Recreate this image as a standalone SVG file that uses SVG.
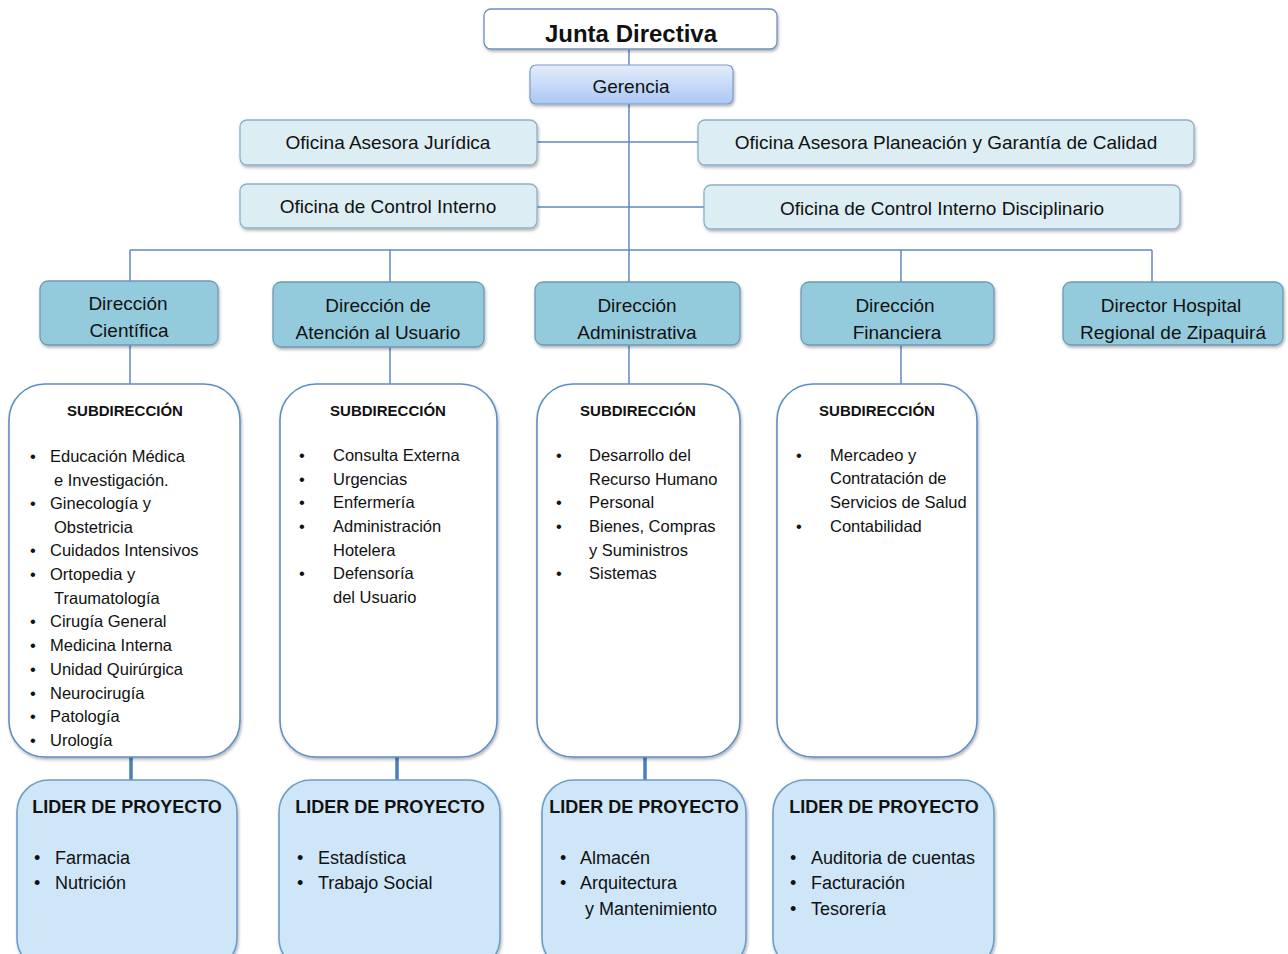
<svg xmlns="http://www.w3.org/2000/svg" width="1288" height="954" viewBox="0 0 1288 954">
<defs>
  <linearGradient id="gGer" x1="0" y1="0" x2="0" y2="1">
    <stop offset="0" stop-color="#e4eefc"/>
    <stop offset="1" stop-color="#aac6f2"/>
  </linearGradient>
  <filter id="sh" x="-5%" y="-5%" width="110%" height="120%">
    <feDropShadow dx="1" dy="2" stdDeviation="1.5" flood-color="#000" flood-opacity="0.3"/>
  </filter>
</defs>
<style>
  text { font-family: "Liberation Sans", Arial, sans-serif; fill: #111; }
  .c { text-anchor: middle; }
  .t19 { font-size: 19px; }
  .b { font-weight: bold; }
  .li { font-size: 16.5px; }
  .ll { font-size: 18px; }
  .ln { stroke: #5f87c4; stroke-width: 1.5; fill: none; }
  .lnt { stroke: #4a7fbf; stroke-width: 3.5; fill: none; }
  .jd { fill: #fff; stroke: #6d8fbf; stroke-width: 1.3; }
  .ger { fill: url(#gGer); stroke: #7b9bcb; stroke-width: 1.2; }
  .of { fill: #ddedf4; stroke: #8db0c9; stroke-width: 1.3; }
  .dir { fill: #93cbdd; stroke: #6e98bb; stroke-width: 1.3; }
  .sub { fill: #fff; stroke: #5c8ec4; stroke-width: 1.6; }
  .lid { fill: #cfe6f8; stroke: #6d9dcb; stroke-width: 1.6; }
</style>

<g id="connectors">
  <line class="ln" x1="629" y1="49" x2="629" y2="250"/>
  <line class="ln" x1="537" y1="142" x2="698" y2="142"/>
  <line class="ln" x1="537" y1="207" x2="704" y2="207"/>
  <line class="ln" x1="130" y1="250" x2="1152" y2="250"/>
  <line class="ln" x1="130" y1="250" x2="130" y2="282"/>
  <line class="ln" x1="390" y1="250" x2="390" y2="282"/>
  <line class="ln" x1="901" y1="250" x2="901" y2="282"/>
  <line class="ln" x1="1152" y1="250" x2="1152" y2="282"/>
  <line class="ln" x1="629" y1="250" x2="629" y2="282"/>
  <line class="ln" x1="130" y1="345" x2="130" y2="384"/>
  <line class="ln" x1="390" y1="347" x2="390" y2="384"/>
  <line class="ln" x1="629" y1="345" x2="629" y2="384"/>
  <line class="ln" x1="901" y1="345" x2="901" y2="384"/>
  <line class="lnt" x1="131" y1="757" x2="131" y2="780"/>
  <line class="lnt" x1="397" y1="757" x2="397" y2="780"/>
  <line class="lnt" x1="645" y1="757" x2="645" y2="780"/>
</g>

<g id="junta">
  <rect class="jd" x="484" y="9" width="293" height="40" rx="7" filter="url(#sh)"/>
  <text class="c b" x="631" y="42" font-size="24">Junta Directiva</text>
</g>
<g id="gerencia">
  <rect class="ger" x="530" y="65" width="203" height="39" rx="6" filter="url(#sh)"/>
  <text class="c t19" x="631" y="93">Gerencia</text>
</g>

<g id="of-juridica">
  <rect class="of" x="240" y="120" width="297" height="45" rx="7" filter="url(#sh)"/>
  <text class="c t19" x="388" y="149">Oficina Asesora Jurídica</text>
</g>
<g id="of-planeacion">
  <rect class="of" x="698" y="120" width="496" height="45" rx="7" filter="url(#sh)"/>
  <text class="c t19" x="946" y="149">Oficina Asesora Planeación y Garantía de Calidad</text>
</g>
<g id="of-control">
  <rect class="of" x="240" y="184" width="297" height="44" rx="7" filter="url(#sh)"/>
  <text class="c t19" x="388" y="213">Oficina de Control Interno</text>
</g>
<g id="of-disciplinario">
  <rect class="of" x="704" y="185" width="476" height="44" rx="7" filter="url(#sh)"/>
  <text class="c t19" x="942" y="215">Oficina de Control Interno Disciplinario</text>
</g>

<g id="dir-cientifica">
  <rect class="dir" x="40" y="281" width="178" height="64" rx="8" filter="url(#sh)"/>
  <text class="c t19" x="128" y="310">Dirección</text>
  <text class="c t19" x="129" y="337">Científica</text>
</g>
<g id="dir-atencion">
  <rect class="dir" x="273" y="282" width="211" height="65" rx="8" filter="url(#sh)"/>
  <text class="c t19" x="378" y="312">Dirección de</text>
  <text class="c t19" x="378" y="339">Atención al Usuario</text>
</g>
<g id="dir-administrativa">
  <rect class="dir" x="535" y="282" width="205" height="63" rx="8" filter="url(#sh)"/>
  <text class="c t19" x="637" y="312">Dirección</text>
  <text class="c t19" x="637" y="339">Administrativa</text>
</g>
<g id="dir-financiera">
  <rect class="dir" x="801" y="282" width="193" height="63" rx="8" filter="url(#sh)"/>
  <text class="c t19" x="895" y="312">Dirección</text>
  <text class="c t19" x="897" y="339">Financiera</text>
</g>
<g id="dir-hospital">
  <rect class="dir" x="1063" y="282" width="220" height="63" rx="8" filter="url(#sh)"/>
  <text class="c t19" x="1171" y="312">Director Hospital</text>
  <text class="c t19" x="1173" y="339">Regional de Zipaquirá</text>
</g>

<g id="sub-cientifica">
  <rect class="sub" x="9" y="384" width="231" height="373" rx="36" filter="url(#sh)"/>
  <text class="c b" x="125" y="416" font-size="15">SUBDIRECCIÓN</text>
  <g class="li">
    <text x="30" y="462">•</text><text x="50" y="462">Educación Médica</text>
    <text x="54" y="486">e Investigación.</text>
    <text x="30" y="509">•</text><text x="50" y="509">Ginecología y</text>
    <text x="54" y="533">Obstetricia</text>
    <text x="30" y="556">•</text><text x="50" y="556">Cuidados Intensivos</text>
    <text x="30" y="580">•</text><text x="50" y="580">Ortopedia y</text>
    <text x="54" y="604">Traumatología</text>
    <text x="30" y="627">•</text><text x="50" y="627">Cirugía General</text>
    <text x="30" y="651">•</text><text x="50" y="651">Medicina Interna</text>
    <text x="30" y="675">•</text><text x="50" y="675">Unidad Quirúrgica</text>
    <text x="30" y="699">•</text><text x="50" y="699">Neurocirugía</text>
    <text x="30" y="722">•</text><text x="50" y="722">Patología</text>
    <text x="30" y="746">•</text><text x="50" y="746">Urología</text>
  </g>
</g>
<g id="sub-atencion">
  <rect class="sub" x="280" y="384" width="217" height="373" rx="36" filter="url(#sh)"/>
  <text class="c b" x="388" y="416" font-size="15">SUBDIRECCIÓN</text>
  <g class="li">
    <text x="299" y="461">•</text><text x="333" y="461">Consulta Externa</text>
    <text x="299" y="485">•</text><text x="333" y="485">Urgencias</text>
    <text x="299" y="508">•</text><text x="333" y="508">Enfermería</text>
    <text x="299" y="532">•</text><text x="333" y="532">Administración</text>
    <text x="333" y="556">Hotelera</text>
    <text x="299" y="579">•</text><text x="333" y="579">Defensoría</text>
    <text x="333" y="603">del Usuario</text>
  </g>
</g>
<g id="sub-administrativa">
  <rect class="sub" x="537" y="384" width="203" height="373" rx="36" filter="url(#sh)"/>
  <text class="c b" x="638" y="416" font-size="15">SUBDIRECCIÓN</text>
  <g class="li">
    <text x="556" y="461">•</text><text x="589" y="461">Desarrollo del</text>
    <text x="589" y="485">Recurso Humano</text>
    <text x="556" y="508">•</text><text x="589" y="508">Personal</text>
    <text x="556" y="532">•</text><text x="589" y="532">Bienes, Compras</text>
    <text x="589" y="556">y Suministros</text>
    <text x="556" y="579">•</text><text x="589" y="579">Sistemas</text>
  </g>
</g>
<g id="sub-financiera">
  <rect class="sub" x="777" y="384" width="200" height="373" rx="36" filter="url(#sh)"/>
  <text class="c b" x="877" y="416" font-size="15">SUBDIRECCIÓN</text>
  <g class="li">
    <text x="796" y="461">•</text><text x="830" y="461">Mercadeo y</text>
    <text x="830" y="484">Contratación de</text>
    <text x="830" y="508">Servicios de Salud</text>
    <text x="796" y="532">•</text><text x="830" y="532">Contabilidad</text>
  </g>
</g>

<g id="lider-cientifica">
  <rect class="lid" x="17" y="780" width="220" height="190" rx="32" filter="url(#sh)"/>
  <text class="c b" x="127" y="813" font-size="18">LIDER DE PROYECTO</text>
  <g class="ll">
    <text x="34" y="864">•</text><text x="55" y="864">Farmacia</text>
    <text x="34" y="889">•</text><text x="55" y="889">Nutrición</text>
  </g>
</g>
<g id="lider-atencion">
  <rect class="lid" x="279" y="780" width="221" height="190" rx="32" filter="url(#sh)"/>
  <text class="c b" x="390" y="813" font-size="18">LIDER DE PROYECTO</text>
  <g class="ll">
    <text x="297" y="864">•</text><text x="318" y="864">Estadística</text>
    <text x="297" y="889">•</text><text x="318" y="889">Trabajo Social</text>
  </g>
</g>
<g id="lider-administrativa">
  <rect class="lid" x="542" y="780" width="204" height="190" rx="32" filter="url(#sh)"/>
  <text class="c b" x="644" y="813" font-size="18">LIDER DE PROYECTO</text>
  <g class="ll">
    <text x="560" y="864">•</text><text x="580" y="864">Almacén</text>
    <text x="560" y="889">•</text><text x="580" y="889">Arquitectura</text>
    <text x="585" y="915">y Mantenimiento</text>
  </g>
</g>
<g id="lider-financiera">
  <rect class="lid" x="773" y="780" width="221" height="190" rx="32" filter="url(#sh)"/>
  <text class="c b" x="884" y="813" font-size="18">LIDER DE PROYECTO</text>
  <g class="ll">
    <text x="790" y="864">•</text><text x="811" y="864">Auditoria de cuentas</text>
    <text x="790" y="889">•</text><text x="811" y="889">Facturación</text>
    <text x="790" y="915">•</text><text x="811" y="915">Tesorería</text>
  </g>
</g>
</svg>
